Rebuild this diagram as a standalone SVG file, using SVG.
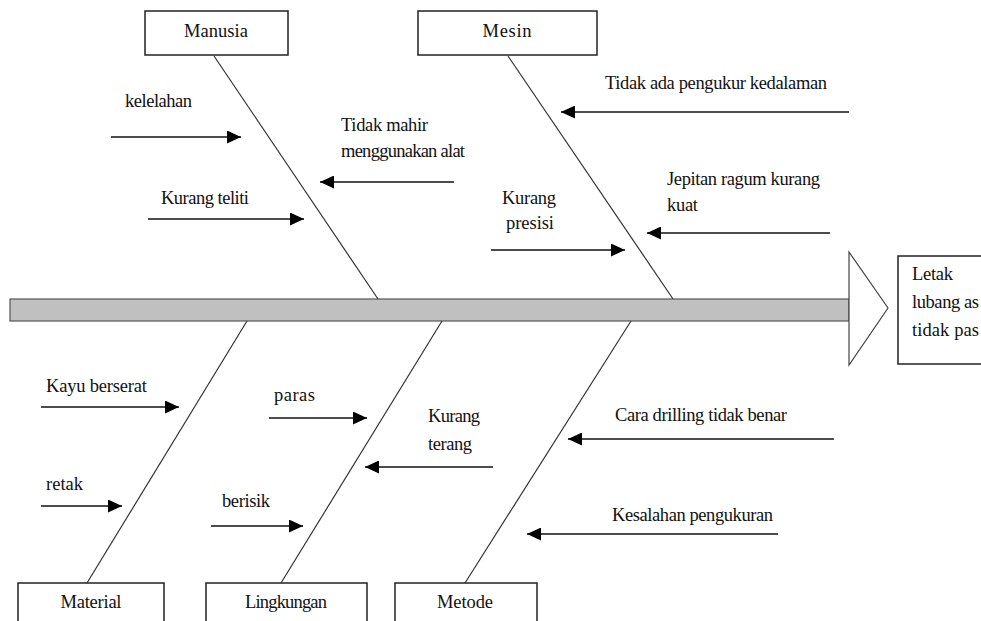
<svg xmlns="http://www.w3.org/2000/svg" width="981" height="621" viewBox="0 0 981 621">
<style>
text{font-family:"Liberation Serif","Times New Roman",serif;font-size:18.5px;fill:#111}
.box{fill:#fff;stroke:#222;stroke-width:1.5}
.bone{stroke:#333;stroke-width:1.2;fill:none}
.arr{stroke:#111;stroke-width:1.5;fill:none;marker-end:url(#ah)}
.c{text-anchor:middle}
</style>
<defs>
<marker id="ah" markerUnits="userSpaceOnUse" markerWidth="14" markerHeight="13" refX="14" refY="6.5" orient="auto">
<path d="M0,0 L14,6.5 L0,13 z" fill="#000"/>
</marker>
</defs>
<rect width="981" height="621" fill="#fff"/>
<g id="spine">
<rect x="10" y="299" width="839" height="22" fill="#c0c0c0" stroke="#555" stroke-width="1.2"/>
<polygon points="849,252 888,308 849,365" fill="#fff" stroke="#444" stroke-width="1.2"/>
</g>
<g id="connectors">
<line class="bone" x1="214" y1="56" x2="378" y2="299"/>
<line class="bone" x1="508" y1="56" x2="673" y2="299"/>
<line class="bone" x1="247" y1="321" x2="87" y2="583"/>
<line class="bone" x1="442" y1="321" x2="281" y2="583"/>
<line class="bone" x1="631" y1="321" x2="465" y2="583"/>
<line class="arr" x1="111" y1="137" x2="241" y2="137"/>
<line class="arr" x1="454" y1="182" x2="320" y2="182"/>
<line class="arr" x1="148" y1="219" x2="304" y2="219"/>
<line class="arr" x1="849" y1="112" x2="561" y2="112"/>
<line class="arr" x1="830" y1="233" x2="647" y2="233"/>
<line class="arr" x1="491" y1="250" x2="625" y2="250"/>
<line class="arr" x1="41" y1="407" x2="179" y2="407"/>
<line class="arr" x1="41" y1="506" x2="122" y2="506"/>
<line class="arr" x1="269" y1="418" x2="367" y2="418"/>
<line class="arr" x1="493" y1="467" x2="365" y2="467"/>
<line class="arr" x1="211" y1="526" x2="303" y2="526"/>
<line class="arr" x1="834" y1="439" x2="568" y2="439"/>
<line class="arr" x1="778" y1="534" x2="527" y2="534"/>
</g>
<g id="manusia"><rect class="box" x="145" y="11" width="143" height="44"/><text class="c" x="216" y="37" textLength="64">Manusia</text></g>
<g id="mesin"><rect class="box" x="418" y="11" width="179" height="44"/><text class="c" x="507" y="37" textLength="49">Mesin</text></g>
<g id="material"><rect class="box" x="18" y="583" width="146" height="50"/><text class="c" x="91" y="608" textLength="61">Material</text></g>
<g id="lingkungan"><rect class="box" x="206" y="583" width="161" height="50"/><text class="c" x="286" y="608" textLength="82">Lingkungan</text></g>
<g id="metode"><rect class="box" x="395" y="583" width="142" height="50"/><text class="c" x="465" y="608" textLength="56">Metode</text></g>
<g id="effect"><rect class="box" x="898" y="256" width="90" height="108"/>
<text x="912" y="280" textLength="41">Letak</text>
<text x="912" y="308" textLength="67">lubang as</text>
<text x="912" y="336" textLength="67">tidak pas</text></g>
<g id="labels">
<text x="125" y="107" textLength="67">kelelahan</text>
<text x="341" y="131" textLength="87">Tidak mahir</text>
<text x="341" y="157" textLength="124">menggunakan alat</text>
<text x="161" y="204" textLength="88">Kurang teliti</text>
<text x="605" y="89" textLength="222">Tidak ada pengukur kedalaman</text>
<text x="667" y="185" textLength="153">Jepitan ragum kurang</text>
<text x="667" y="211" textLength="31">kuat</text>
<text x="502" y="204" textLength="54">Kurang</text>
<text x="506" y="229" textLength="48">presisi</text>
<text x="46" y="392" textLength="101">Kayu berserat</text>
<text x="46" y="490" textLength="37">retak</text>
<text x="274" y="401" textLength="41">paras</text>
<text x="428" y="422" textLength="52">Kurang</text>
<text x="428" y="450" textLength="44">terang</text>
<text x="222" y="507" textLength="48">berisik</text>
<text x="615" y="421" textLength="172">Cara drilling tidak benar</text>
<text x="612" y="521" textLength="161">Kesalahan pengukuran</text>
</g>
</svg>
